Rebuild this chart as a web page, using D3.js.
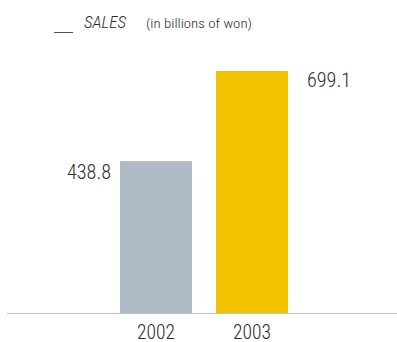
<!DOCTYPE html>
<html>
<head>
<meta charset="utf-8">
<script src="https://cdn.jsdelivr.net/npm/d3@7/dist/d3.min.js"></script>
<style>
  html, body { margin: 0; padding: 0; background: #fff; }
  svg { display: block; }
  text { font-family: "Roboto Condensed", "Liberation Sans Narrow", Roboto, "Liberation Sans", sans-serif; font-weight: 300; fill: #2b2b2b; }
</style>
</head>
<body>
<svg id="chart" width="397" height="342"></svg>
<script>
// Annual sales, in billions of won
const years = ["2002", "2003"];
const sales = [438.8, 699.1];
const barColors = ["#afbcc5", "#f3c300"];
const valueLabels = ["438.8", "699.1"];

const W = 397, H = 342;
const baseY = 313;
const svg = d3.select("#chart");

const x = d3.scaleBand()
  .domain(years)
  .range([108, 300])
  .paddingInner(0.25)
  .paddingOuter(0.125);

const y = d3.scaleLinear()
  .domain([0, d3.max(sales)])
  .range([baseY, 71]);

// Title
svg.append("line")
  .attr("x1", 54).attr("x2", 73)
  .attr("y1", 32.5).attr("y2", 32.5)
  .attr("stroke", "#555").attr("stroke-width", 1);
svg.append("text")
  .attr("x", 84).attr("y", 28)
  .attr("font-size", 17).attr("font-style", "italic")
  .attr("textLength", 42).attr("lengthAdjust", "spacingAndGlyphs")
  .text("SALES");
svg.append("text")
  .attr("x", 146).attr("y", 28)
  .attr("font-size", 13)
  .attr("textLength", 106).attr("lengthAdjust", "spacingAndGlyphs")
  .text("(in billions of won)");

// Bars
svg.append("g").selectAll("rect")
  .data(years)
  .join("rect")
  .attr("x", d => x(d))
  .attr("width", x.bandwidth())
  .attr("y", (d, i) => y(sales[i]))
  .attr("height", (d, i) => baseY - y(sales[i]))
  .attr("fill", (d, i) => barColors[i]);

// Value labels: first to the left of its bar, second to the right
svg.append("g").selectAll("text")
  .data(years)
  .join("text")
  .attr("font-size", 20)
  .attr("textLength", 44).attr("lengthAdjust", "spacingAndGlyphs")
  .attr("text-anchor", (d, i) => i === 0 ? "end" : "start")
  .attr("x", (d, i) => i === 0 ? x(d) - 9 : x(d) + x.bandwidth() + 19)
  .attr("y", (d, i) => y(sales[i]) + (i === 0 ? 18 : 16))
  .text((d, i) => valueLabels[i]);

// Baseline
svg.append("line")
  .attr("x1", 7).attr("x2", W)
  .attr("y1", baseY + 0.5).attr("y2", baseY + 0.5)
  .attr("stroke", "#b7c2ca").attr("stroke-width", 1);

// Category axis
const axis = svg.append("g")
  .attr("transform", `translate(0,${baseY})`)
  .call(d3.axisBottom(x).tickSize(0).tickPadding(10));
axis.select(".domain").remove();
axis.attr("font-family", null).attr("font-size", null);
axis.selectAll("text")
  .attr("font-size", 20)
  .attr("dy", null)
  .attr("y", 25.5)
  .attr("textLength", 38).attr("lengthAdjust", "spacingAndGlyphs")
  .attr("fill", "#2b2b2b");
</script>
</body>
</html>
